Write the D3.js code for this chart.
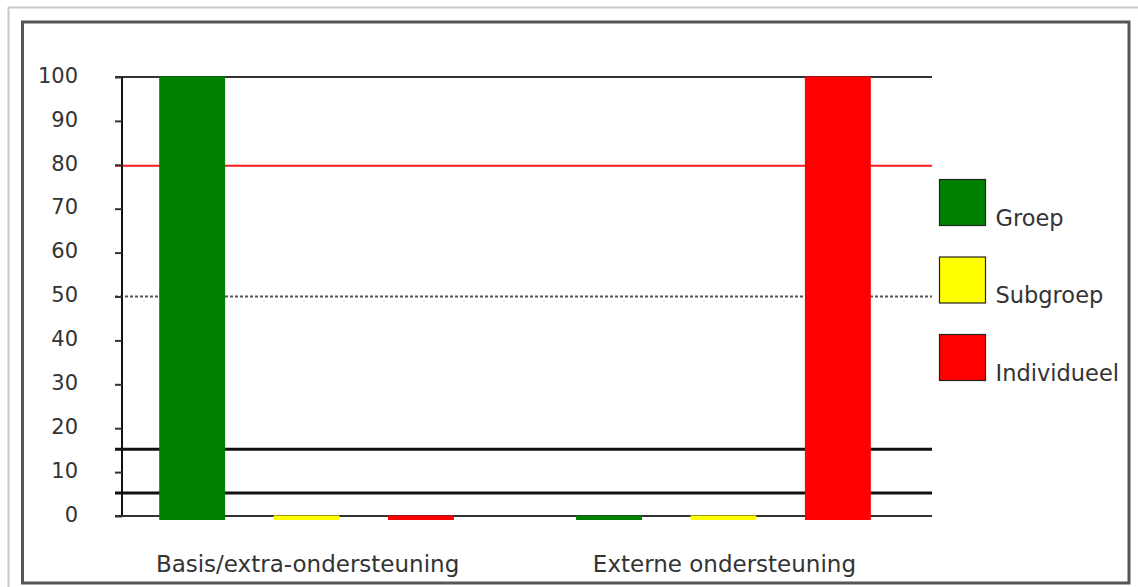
<!DOCTYPE html>
<html>
<head>
<meta charset="utf-8">
<script src="https://cdn.jsdelivr.net/npm/d3@7"></script>
<style>
  html, body { margin: 0; padding: 0; background: #fff; }
  svg { display: block; }
  text { font-family: "DejaVu Sans", Verdana, sans-serif; fill: #333; }
</style>
</head>
<body>
<svg id="chart" width="1138" height="587"></svg>
<script>
// ---- data ----
const categories = ["Basis/extra-ondersteuning", "Externe ondersteuning"];
const series = ["Groep", "Subgroep", "Individueel"];
const seriesColors = ["#008000", "#ffff00", "#ff0000"];
const valuesGroep = [100, 0];
const valuesSubgroep = [0, 0];
const valuesIndividueel = [0, 100];
const yTicks = [0, 10, 20, 30, 40, 50, 60, 70, 80, 90, 100];
const redLineValue = [80];
const dottedLineValue = [50];
const thickLineValues = [15, 5];

const seriesValues = [valuesGroep, valuesSubgroep, valuesIndividueel];

(function () {
const svg = d3.select("#chart");

// outer light frame
svg.append("line").attr("x1", 8).attr("x2", 1138).attr("y1", 7.5).attr("y2", 7.5)
  .attr("stroke", "#c8c8c8").attr("stroke-width", 2);
svg.append("line").attr("x1", 8.5).attr("x2", 8.5).attr("y1", 7).attr("y2", 587)
  .attr("stroke", "#c8c8c8").attr("stroke-width", 2);
// inner dark frame
svg.append("rect").attr("x", 22.5).attr("y", 22).attr("width", 1106.5).attr("height", 561)
  .attr("fill", "#fff").attr("stroke", "#555").attr("stroke-width", 3);

const pl = 122, pr = 932, pt = 77, pb = 516;
const y = d3.scaleLinear().domain([0, 100]).range([pb, pt]);
const x0 = d3.scaleBand().domain(categories).range([pl, pr])
  .paddingInner(0.293).paddingOuter(0.118).align(0.378);
const x1 = d3.scaleBand().domain(series).range([0, x0.bandwidth()])
  .paddingInner(0.424).paddingOuter(0);

const g = svg.append("g");

// horizontal frame lines at 0 and 100
g.selectAll("line.hz").data([0, 100]).join("line").attr("class", "hz")
  .attr("x1", pl - 7).attr("x2", pr)
  .attr("y1", d => y(d)).attr("y2", d => y(d))
  .attr("stroke", "#333").attr("stroke-width", 2);

// reference lines
g.selectAll("line.red").data(redLineValue).join("line").attr("class", "red")
  .attr("x1", pl - 7).attr("x2", pr)
  .attr("y1", d => y(d) + 1).attr("y2", d => y(d) + 1)
  .attr("stroke", "#ff1a1a").attr("stroke-width", 2);
g.selectAll("line.dot").data(dottedLineValue).join("line").attr("class", "dot")
  .attr("x1", pl - 7).attr("x2", pr)
  .attr("y1", d => y(d)).attr("y2", d => y(d))
  .attr("stroke", "#555").attr("stroke-width", 2).attr("stroke-dasharray", "3,2");
g.selectAll("line.thick").data(thickLineValues).join("line").attr("class", "thick")
  .attr("x1", pl - 7).attr("x2", pr)
  .attr("y1", d => y(d) - 1).attr("y2", d => y(d) - 1)
  .attr("stroke", "#111").attr("stroke-width", 3);

// y axis
const yAxis = d3.axisLeft(y).tickValues(yTicks).tickSize(7).tickPadding(0).tickFormat(d3.format("d"));
const ya = g.append("g").attr("transform", `translate(${pl},0)`).call(yAxis);
ya.select(".domain").attr("stroke", "#111").attr("stroke-width", 2).attr("d", `M0,${pt}V${pb}`);
ya.selectAll(".tick line").attr("stroke", "#333").attr("stroke-width", 2);
ya.selectAll(".tick text")
  .attr("x", 78 - pl).attr("dy", "0.25em")
  .attr("text-anchor", "end")
  .style("font-family", '"DejaVu Sans", Verdana, sans-serif')
  .style("font-size", "21px").attr("fill", "#333");

// bars
const rows = categories.map((c, i) => ({ cat: c, vals: series.map((s, j) => ({ s, j, v: seriesValues[j][i] })) }));
const grp = g.selectAll("g.grp").data(rows).join("g").attr("class", "grp")
  .attr("transform", d => `translate(${x0(d.cat)},0)`);
grp.selectAll("rect").data(d => d.vals).join("rect")
  .attr("x", d => x1(d.s))
  .attr("width", x1.bandwidth())
  .attr("y", d => y(d.v) - 0.5)
  .attr("height", d => y(0) - y(d.v) + 4.5)
  .attr("fill", d => seriesColors[d.j]);

// x labels
g.selectAll("text.xl").data(categories).join("text").attr("class", "xl")
  .attr("x", d => x0(d) + x0.bandwidth() / 2 + 1)
  .attr("y", 572)
  .attr("text-anchor", "middle")
  .style("font-size", "23px")
  .text(d => d);

// legend
const leg = svg.append("g").selectAll("g").data(series).join("g")
  .attr("transform", (d, i) => `translate(939.5,${179.5 + i * 77.5})`);
leg.append("rect").attr("width", 46).attr("height", 46)
  .attr("fill", (d, i) => seriesColors[i]).attr("stroke", "#222").attr("stroke-width", 1.2);
leg.append("text").attr("x", 56).attr("y", 46)
  .style("font-size", "22.5px").text(d => d);
})();
</script>
</body>
</html>
